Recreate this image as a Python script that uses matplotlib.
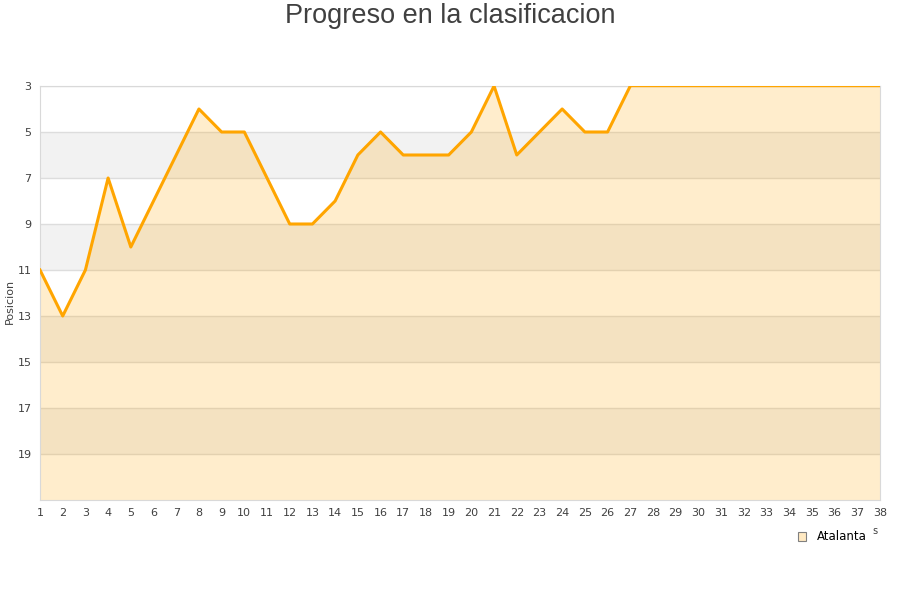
import numpy as np
import matplotlib
matplotlib.use("Agg")
import matplotlib.pyplot as plt
from matplotlib.patches import Patch

# jornadas y posiciones
jornadas = list(range(1, 39))
posicion_jugada = [11, 13, 11, 7, 10, 8, 6, 4, 5, 5, 7, 9, 9, 8, 6, 5, 6, 6, 6, 5,
                   3, 6, 5, 4, 5, 5, 3]
posicion_resto = [3] * 11
y_ticks = [3, 5, 7, 9, 11, 13, 15, 17, 19]
equipo = "Atalanta"

naranja = "#FFA500"
texto = "#404040"

posiciones = posicion_jugada + posicion_resto
n_jug = len(posicion_jugada)

fig = plt.figure(figsize=(9, 6), dpi=100)
ax = fig.add_axes([40 / 900, 1 - 500 / 600, 840 / 900, 414 / 600])

# bandas alternas de fondo
for y0 in range(5, 21, 4):
    ax.axhspan(y0, y0 + 2, color="#F2F2F2", zorder=0, lw=0)
for t in y_ticks:
    ax.axhline(t, color="#DDDDDD", lw=1, zorder=1)

ax.fill_between(jornadas, posiciones, 21, color=naranja, alpha=0.2, lw=0, zorder=2)
ax.plot(jornadas[:n_jug], posicion_jugada, color=naranja, lw=2.2, zorder=3)
ax.plot(jornadas[n_jug - 1:], posiciones[n_jug - 1:], color=naranja, lw=1, zorder=3)

ax.set_xlim(1, 38)
ax.set_ylim(21, 3)
ax.set_yticks(y_ticks)
ax.set_xticks(jornadas)
ax.tick_params(length=0, labelsize=8, colors=texto, pad=6)
for s in ax.spines.values():
    s.set_color("#D9D9D9")

ax.set_ylabel("Posicion", fontsize=8, color=texto)
ax.yaxis.set_label_coords(-0.03, 0.48)

fig.text(0.5, 1 - 16 / 600, "Progreso en la clasificacion", fontsize=19.5,
         color=texto, family="Liberation Sans", ha="center", va="center")

fig.text(875 / 900, 1 - 531 / 600, "s", fontsize=7, color=texto, ha="center", va="center")

ax.legend(handles=[Patch(facecolor="#FFE9C2", edgecolor="#808080", lw=0.8)],
          labels=[equipo], loc="center right", frameon=False, fontsize=8.5,
          handlelength=0.7, handleheight=0.7, handletextpad=0.9,
          bbox_to_anchor=(877 / 900, 1 - 537 / 600), bbox_transform=fig.transFigure)

fig.savefig("out.png", dpi=100)
